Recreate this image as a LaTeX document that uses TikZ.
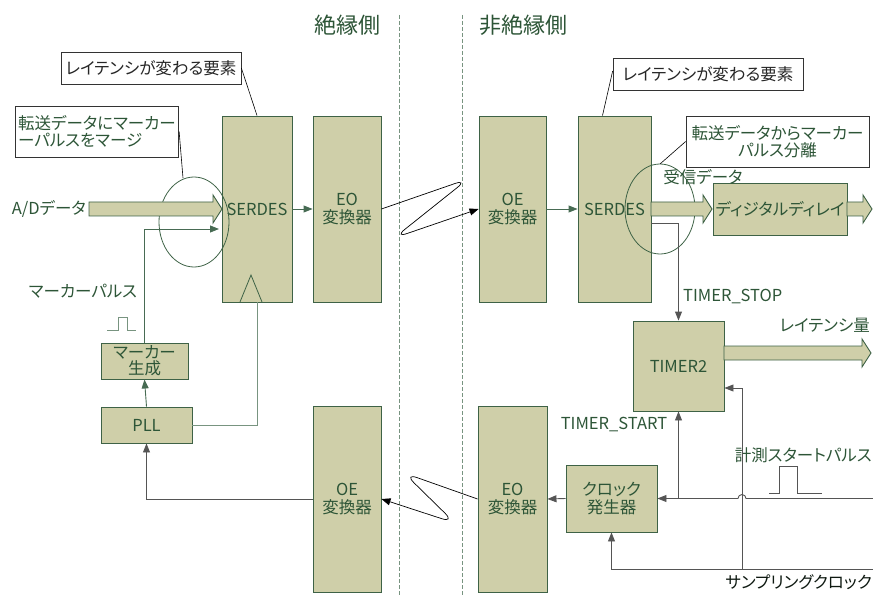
\documentclass[tikz,border=0pt]{standalone}
\usepackage{fontspec}
\setmainfont[RawFeature=+palt]{Noto Sans CJK JP}
\usetikzlibrary{arrows.meta,calc}
\definecolor{boxfill}{RGB}{207,207,169}
\definecolor{boxline}{RGB}{62,98,70}
\definecolor{txt}{RGB}{45,85,55}
\definecolor{gline}{RGB}{120,148,128}
\definecolor{kline}{RGB}{85,85,85}
\definecolor{hdark}{RGB}{25,70,40}
\tikzset{
  blk/.style={draw=boxline, fill=boxfill, line width=0.9pt, text=txt, align=center, inner sep=0pt},
  callout/.style={draw=black!80, fill=white, line width=0.7pt, inner sep=3pt},
  lbl/.style={text=txt, inner sep=0pt},
  tri/.tip={Triangle[length=9pt,width=7pt]},
  kcon/.style={draw=kline, line width=0.9pt},
  gcon/.style={draw=hdark!80, line width=0.9pt},
  wide/.style={draw=boxline, fill=boxfill, line width=0.9pt},
  sep/.style={draw=gline, line width=0.6pt, dash pattern=on 4pt off 2pt},
}
\begin{document}
\begin{tikzpicture}[x=1pt,y=-1pt,font=\fontsize{16.5}{17.5}\selectfont]
\useasboundingbox (0,0) rectangle (873,596);
% separators
\draw[sep] (399,15) -- (399,596);
\draw[sep] (462,15) -- (462,596);
\node[lbl, font=\fontsize{22}{24}\selectfont] (t1) at (347,25) {絶縁側};
\node[lbl, font=\fontsize{22}{24}\selectfont] (t2) at (523,25) {非絶縁側};

% left side blocks
\node[blk, minimum width=70pt, minimum height=186pt] (serL) at (257,209) {SERDES};
\node[blk, minimum width=68pt, minimum height=186pt] (eoL) at (347,209) {EO\\変換器};
\node[blk, minimum width=68pt, minimum height=186pt] (oeL) at (347,499) {OE\\変換器};
\node[blk, minimum width=87pt, minimum height=36pt, font=\fontsize{16.5}{16}\selectfont] (mk) at (144.5,361) {マーカー\\生成};
\node[blk, minimum width=91pt, minimum height=36pt] (pll) at (146.5,425) {PLL};
% clock triangle
\draw[boxline, line width=0.8pt] (240,302) -- (251,275) -- (262,302);

% right side blocks
\node[blk, minimum width=67pt, minimum height=186pt] (oeR) at (512.5,209) {OE\\変換器};
\node[blk, minimum width=73pt, minimum height=186pt] (serR) at (614.5,209) {SERDES};
\node[blk, minimum width=134pt, minimum height=52pt] (dd) at (780,209) {ディジタルディレイ};
\node[blk, minimum width=91pt, minimum height=90pt] (tm) at (678.5,366) {TIMER2};
\node[blk, minimum width=69pt, minimum height=186pt] (eoR) at (512.5,499) {EO\\変換器};
\node[blk, minimum width=91pt, minimum height=67pt] (cg) at (611.5,498.5) {クロック\\発生器};

% callouts
\node[callout, minimum width=180pt, minimum height=32pt, text=black!85] (c1) at (151,68) {レイテンシが変わる要素};
\node[callout, minimum width=150pt, minimum height=51pt, text=txt, align=left] (c2) at (97,131.5) {転送データにマーカー\\ーパルスをマージ};
\node[callout, minimum width=190pt, minimum height=32pt, text=black!85] (c3) at (708,74) {レイテンシが変わる要素};
\node[callout, minimum width=183pt, minimum height=51pt, text=txt, align=center] (c4) at (777.5,141.5) {転送データからマーカー\\パルス分離};

% ellipses
\draw[boxline, line width=0.8pt] (194,222) ellipse [x radius=35, y radius=45];
\draw[boxline, line width=0.8pt] (660,209) ellipse [x radius=35, y radius=45];
\coordinate (e1top) at (183,178);
\coordinate (e2top) at (660,164);
\draw[black, line width=0.6pt] (c1.east) -- (serL.north);
\draw[black, line width=0.6pt] (c2.east) -- (e1top);
\draw[black, line width=0.6pt] (c3.west) ++(0,-3) -- ($(serR.north)+(-12,0)$);
\draw[black, line width=0.6pt] ($(c4.west)+(0,0)$) -- (e2top);

% labels
\node[lbl, anchor=east] (ad) at (86,209) {A/Dデータ};
\node[lbl] (mpl) at (83,291) {マーカーパルス};
\node[lbl] (rx) at (703,177) {受信データ};
\node[lbl, anchor=west] (tstop) at (683,297) {TIMER\_STOP};
\node[lbl, anchor=east] (lat) at (870,325) {レイテンシ量};
\node[lbl] (tstart) at (614,424) {TIMER\_START};
\node[lbl, anchor=east] (msp) at (872,455) {計測スタートパルス};
\node[lbl, text=black!70!txt, anchor=east] (smp) at (872,582) {サンプリングクロック};

% pulse symbols
\draw[gline, line width=1pt] (107,330) -- (118,330) -- (118,317) -- (127,317) -- (127,330) -- (136,330);
\draw[kline, line width=1pt] (769,493) -- (779,493) -- (779,466) -- (797,466) -- (797,493) -- (822,493);

% wide arrows
\draw[wide] (89,202) -- (213,202) -- (213,195) -- (222,209) -- (213,223) -- (213,216) -- (89,216) -- cycle;
\draw[wide] (651,202) -- (703,202) -- (703,195) -- (712,209) -- (703,223) -- (703,216) -- (651,216) -- cycle;
\draw[wide] (847,202) -- (863,202) -- (863,195) -- (872,209) -- (863,223) -- (863,216) -- (847,216) -- cycle;
\draw[wide] (724,346) -- (862,346) -- (862,339) -- (871,353) -- (862,367) -- (862,360) -- (724,360) -- cycle;

% connectors left
\draw[gcon, -tri] (serL.east) -- (eoL.west);
\coordinate (mpend) at (219,229);
\draw[gcon, -tri] (mk.north) |- (mpend);
\draw[gcon, -tri] (pll.north) -- (mk.south);
\draw[gline, line width=0.9pt] (pll.east) -| (serL.south);
\draw[kcon, -tri] (oeL.west) -| (pll.south);

% optical links
\draw[black, line width=0.7pt, rounded corners=14pt, -tri] (eoL.east) -- (468,179) -- (394,238) -- (oeR.west);
\draw[black, line width=0.7pt, rounded corners=14pt, -tri] (eoR.west) -- (404,473) -- (455,523) -- (oeL.east);

% connectors right
\draw[gcon, -tri] (oeR.east) -- (serR.west);
\coordinate (tsout) at (651,223);
\draw[kcon, -tri] (tsout) -| (tm.north);
\draw[kcon, -tri] (cg.west) -- (eoR.east);
\coordinate (sp) at (873,498.5);
\draw[kcon, -tri] (sp) -- (746,498.5) arc[start angle=0, end angle=-180, radius=4] -- (cg.east);
\draw[kcon, -tri] (tm.south |- cg.east) -- (tm.south);
\coordinate (sc) at (873,569);
\draw[kcon, -tri] (sc) -| (cg.south);
\draw[kcon, -tri] (742,569) |- (tm.east |- 0,388);
\end{tikzpicture}
\end{document}
